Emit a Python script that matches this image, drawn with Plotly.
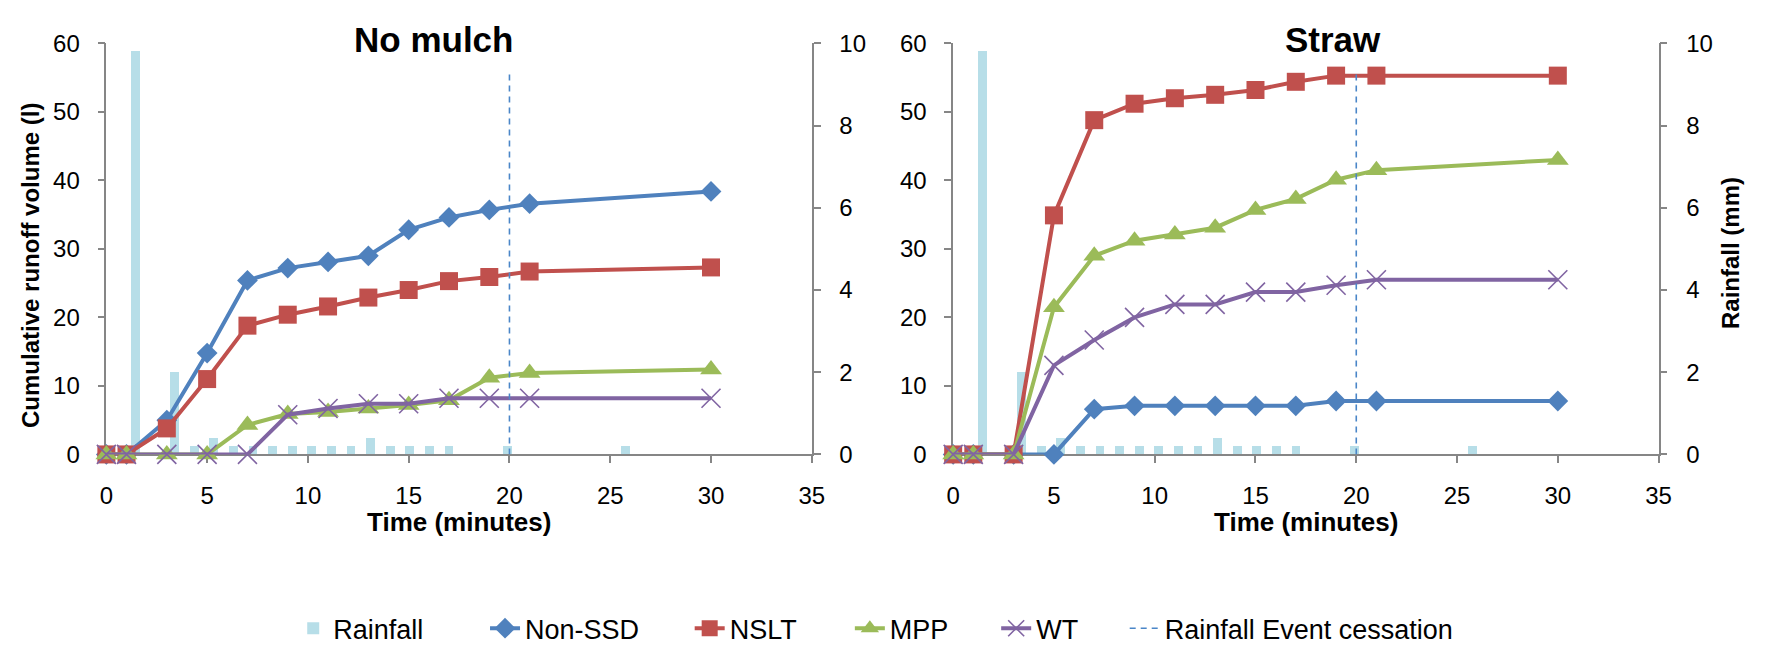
import plotly.graph_objects as go

# ---- data -------------------------------------------------------------
time_min = [0, 1, 3, 5, 7, 9, 11, 13, 15, 17, 19, 21, 30]

# No mulch plot: cumulative runoff volume (l)
nonssd_nomulch = [0, 0, 5.0, 14.8, 25.4, 27.2, 28.1, 29.0, 32.8, 34.6, 35.7, 36.6, 38.4]
nslt_nomulch = [0, 0, 3.8, 11.0, 18.8, 20.4, 21.6, 22.9, 24.0, 25.3, 25.9, 26.7, 27.3]
mpp_nomulch = [0, 0, 0, 0, 4.3, 5.9, 6.2, 6.7, 7.2, 7.9, 11.2, 11.9, 12.4]
wt_nomulch = [0, 0, 0, 0, 0, 5.8, 6.7, 7.4, 7.4, 8.2, 8.2, 8.2, 8.2]

# Straw plot: cumulative runoff volume (l)
nonssd_straw = [0, 0, 0, 0, 6.6, 7.1, 7.1, 7.1, 7.1, 7.1, 7.8, 7.8, 7.8]
nslt_straw = [0, 0, 0, 34.9, 48.8, 51.2, 52.0, 52.5, 53.2, 54.4, 55.3, 55.3, 55.3]
mpp_straw = [0, 0, 0, 21.5, 29.0, 31.2, 32.1, 33.1, 35.7, 37.3, 40.1, 41.5, 43.0]
wt_straw = [0, 0, 0, 13.0, 16.7, 20.0, 21.9, 21.9, 23.7, 23.7, 24.7, 25.5, 25.5]

# Rainfall per minute (mm), one category per minute 0..35
rain_minute = list(range(36))
rain_mm = [0, 9.8, 0, 2.0, 0.2, 0.4, 0.2, 0.2, 0.2, 0.2, 0.2, 0.2, 0.2, 0.4, 0.2,
           0.2, 0.2, 0.2, 0, 0, 0.2, 0, 0, 0, 0, 0, 0.2, 0, 0, 0, 0, 0, 0, 0, 0, 0]

# Rainfall event cessation marker
cessation_time = 20
cessation_top = 55.5

panel_titles = ["No mulch", "Straw"]
x_ticks = [0, 5, 10, 15, 20, 25, 30, 35]
runoff_ticks = [0, 10, 20, 30, 40, 50, 60]
rain_ticks = [0, 2, 4, 6, 8, 10]

# ---- styling ----------------------------------------------------------
W, H = 1767, 657
FONT = "Arial, Liberation Sans, sans-serif"
AXIS_GREY = "#868686"
BLUE, RED, GREEN, PURPLE = "#4F81BD", "#C0504D", "#9BBB59", "#8064A2"
RAIN_COLOR = "#B7DEE8"


def px_x(v):
    return v / W


def px_y(v):
    return 1 - v / H


plot_top, plot_bottom = 30.7, 459.3
y_dom = [px_y(plot_bottom), px_y(plot_top)]
panels = [
    dict(x0=100.5, x1=814.0, title_x=431, series=[nonssd_nomulch, nslt_nomulch, mpp_nomulch, wt_nomulch]),
    dict(x0=957.0, x1=1670.5, title_x=1341, series=[nonssd_straw, nslt_straw, mpp_straw, wt_straw]),
]

series_style = [
    ("Non-SSD", BLUE, dict(symbol="diamond", size=16)),
    ("NSLT", RED, dict(symbol="square", size=18)),
    ("MPP", GREEN, dict(symbol="triangle-up", size=19)),
    ("WT", PURPLE, dict(symbol="x-thin", size=19, line=dict(width=1.6, color=PURPLE))),
]

# one legend box per entry so each can sit at its own horizontal position
legend_text_x = [334, 528, 735, 897, 1045, 1175]
legend_names = ["legend", "legend2", "legend3", "legend4", "legend5", "legend6"]

fig = go.Figure()
layout = {}
annotations = []

for i, p in enumerate(panels):
    n = 2 * i + 1          # base subplot: rainfall bars
    m = 2 * i + 2          # overlay subplot: runoff lines
    xb, yb = f"x{'' if n == 1 else n}", f"y{'' if n == 1 else n}"
    xo, yo = f"x{m}", f"y{m}"
    dom = [px_x(p["x0"]), px_x(p["x1"])]
    first = i == 0

    axis_common = dict(showgrid=False, zeroline=False, showline=True, linecolor=AXIS_GREY,
                       linewidth=1.5, ticks="outside", ticklen=7, tickcolor=AXIS_GREY,
                       tickwidth=1.5, tickfont=dict(family=FONT, size=24, color="#000000"))

    layout[f"xaxis{'' if n == 1 else n}"] = dict(domain=dom, range=[-0.5, 35.5], visible=False,
                                                  anchor=yb, fixedrange=True)
    layout[f"yaxis{'' if n == 1 else n}"] = dict(domain=y_dom, range=[0, 10], side="right",
                                                  anchor=xb, tickvals=rain_ticks,
                                                  ticklabelstandoff=14, **axis_common)
    layout[f"xaxis{m}"] = dict(domain=dom, overlaying=xb, range=[0, 35], tickvals=x_ticks,
                               anchor=yo, side="bottom", ticklabelstandoff=12,
                               layer="below traces", **axis_common)
    layout[f"yaxis{m}"] = dict(domain=y_dom, overlaying=yb, range=[0, 60], side="left",
                               tickvals=runoff_ticks, anchor=xo, ticklabelstandoff=13,
                               layer="below traces", **axis_common)

    fig.add_trace(go.Bar(x=rain_minute, y=rain_mm, name="Rainfall", width=0.45,
                         marker=dict(color=RAIN_COLOR, line=dict(width=0)),
                         xaxis=xb, yaxis=yb, showlegend=first, legend=legend_names[0]))

    for k, ((name, color, mk), vals) in enumerate(zip(series_style, p["series"])):
        marker = dict(color=color, **mk)
        fig.add_trace(go.Scatter(x=time_min, y=vals, name=name, mode="lines+markers",
                                 line=dict(color=color, width=4), marker=marker,
                                 cliponaxis=False, xaxis=xo, yaxis=yo,
                                 showlegend=first, legend=legend_names[1 + k]))

    fig.add_trace(go.Scatter(x=[cessation_time, cessation_time], y=[0, cessation_top],
                             name="Rainfall Event cessation", mode="lines",
                             line=dict(color="#4A86C8", width=1.6, dash="6px,5px"),
                             xaxis=xo, yaxis=yo, showlegend=first, legend=legend_names[5]))

    annotations.append(dict(text=f"<b>{panel_titles[i]}</b>", x=px_x(p["title_x"]), y=px_y(27),
                            xref="paper", yref="paper", xanchor="center", yanchor="middle",
                            showarrow=False, font=dict(family=FONT, size=35, color="#000000")))
    annotations.append(dict(text="<b>Time (minutes)</b>", x=px_x((p["x0"] + p["x1"]) / 2),
                            y=px_y(530), xref="paper", yref="paper", xanchor="center",
                            yanchor="middle", showarrow=False,
                            font=dict(family=FONT, size=26, color="#000000")))

annotations.append(dict(text="<b>Cumulative runoff volume (l)</b>", x=px_x(24), y=px_y(262),
                        xref="paper", yref="paper", xanchor="center", yanchor="middle",
                        textangle=-90, showarrow=False,
                        font=dict(family=FONT, size=24, color="#000000")))
annotations.append(dict(text="<b>Rainfall (mm)</b>", x=px_x(1744), y=px_y(249),
                        xref="paper", yref="paper", xanchor="center", yanchor="middle",
                        textangle=-90, showarrow=False,
                        font=dict(family=FONT, size=24, color="#000000")))

for lname, tx in zip(legend_names, legend_text_x):
    layout[lname] = dict(orientation="h", x=px_x(tx - 44.5), y=px_y(641), xanchor="left",
                         yanchor="middle", font=dict(family=FONT, size=27, color="#000000"),
                         bgcolor="rgba(0,0,0,0)", itemwidth=30)

fig.update_layout(
    width=W, height=H,
    margin=dict(l=0, r=0, t=0, b=0),
    paper_bgcolor="white", plot_bgcolor="rgba(0,0,0,0)",
    bargap=0,
    annotations=annotations,
    **layout,
)

fig.write_html("out.html")
